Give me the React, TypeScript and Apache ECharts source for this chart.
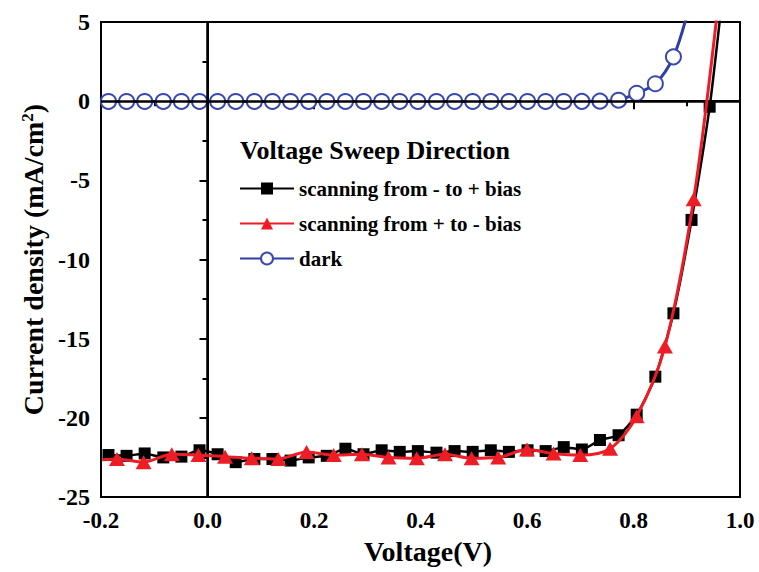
import React, { useEffect, useRef } from "react";
import * as echarts from "echarts";

// Voltage (V) / current density (mA/cm2)
const squareV = [-0.186, -0.152, -0.118, -0.083, -0.049, -0.015, 0.019, 0.053, 0.088, 0.122, 0.156, 0.19, 0.224, 0.259, 0.293, 0.327, 0.361, 0.395, 0.43, 0.464, 0.498, 0.532, 0.566, 0.601, 0.635, 0.669, 0.703, 0.737, 0.772, 0.806, 0.841, 0.875, 0.909, 0.943];
const squareJ = [-22.35, -22.4, -22.25, -22.5, -22.45, -22.05, -22.3, -22.8, -22.6, -22.6, -22.7, -22.5, -22.4, -21.95, -22.3, -22.05, -22.15, -22.1, -22.2, -22.1, -22.15, -22.05, -22.15, -22.05, -22.1, -21.85, -22.0, -21.4, -21.1, -19.8, -17.4, -13.4, -7.5, -0.35];
const squareTail = [0.965, 6.0];

const triV = [-0.17, -0.12, -0.067, -0.017, 0.033, 0.083, 0.133, 0.186, 0.237, 0.29, 0.34, 0.393, 0.446, 0.496, 0.546, 0.6, 0.65, 0.7, 0.756, 0.806, 0.859, 0.913];
const triJ = [-22.6, -22.8, -22.3, -22.35, -22.45, -22.55, -22.6, -22.15, -22.35, -22.3, -22.5, -22.55, -22.3, -22.55, -22.5, -22.0, -22.25, -22.35, -21.95, -19.9, -15.5, -6.2];
const triHead = [-0.197, -22.65];
const triTail = [0.96, 6.4];

const darkV = [-0.186, -0.152, -0.118, -0.083, -0.049, -0.015, 0.019, 0.053, 0.088, 0.122, 0.156, 0.19, 0.224, 0.259, 0.293, 0.327, 0.361, 0.395, 0.43, 0.464, 0.498, 0.532, 0.566, 0.601, 0.635, 0.669, 0.703, 0.737, 0.772, 0.806, 0.841, 0.875];
const darkJ = [-0.02, -0.02, -0.02, -0.02, -0.02, -0.02, -0.02, -0.02, -0.02, -0.02, -0.02, -0.02, -0.02, -0.02, -0.02, -0.02, -0.02, -0.02, -0.02, -0.02, -0.02, -0.02, -0.02, -0.02, -0.02, -0.02, -0.01, 0.0, 0.06, 0.5, 1.1, 2.8];
const darkTail = [0.905, 6.0];

const seriesNames = ["scanning from - to + bias", "scanning from + to - bias", "dark"];
const legendTitle = "Voltage Sweep Direction";
const xTickLabels = ["-0.2", "0.0", "0.2", "0.4", "0.6", "0.8", "1.0"];
const yTickLabels = ["-25", "-20", "-15", "-10", "-5", "0", "5"];

const FONT = "'Liberation Serif', 'Times New Roman', serif";

function pts(xs: number[], ys: number[]) {
  return xs.map((x, i) => [x, ys[i]]);
}
function hidden(p: number[]) {
  return { value: p, symbol: "none" };
}

export default function App() {
  const ref = useRef<HTMLDivElement>(null);
  useEffect(() => {
    if (!ref.current) return;
    const chart = echarts.init(ref.current, null, { renderer: "svg" });
    const option: any = {
      animation: false,
      backgroundColor: "#fff",
      grid: {
        left: 101,
        right: 19,
        top: 22,
        bottom: 75,
        show: true,
        borderColor: "#000",
        borderWidth: 2,
        backgroundColor: "transparent",
      },
      xAxis: {
        type: "value",
        min: -0.2,
        max: 1.0,
        interval: 0.2,
        name: "Voltage(V)",
        nameLocation: "middle",
        nameGap: 40,
        nameTextStyle: { fontFamily: FONT, fontWeight: "bold", fontSize: 28, color: "#000", padding: [0, 0, 0, 15] },
        axisLine: { show: true, lineStyle: { color: "#000", width: 2 } },
        axisTick: { show: true, length: 8, lineStyle: { color: "#000", width: 2 } },
        minorTick: { show: true, splitNumber: 2, length: 5, lineStyle: { color: "#000", width: 2 } },
        splitLine: { show: false },
        axisLabel: {
          margin: 12,
          fontFamily: FONT,
          fontWeight: "bold",
          fontSize: 23,
          color: "#000",
          formatter: (v: number) => xTickLabels[Math.round((v + 0.2) / 0.2)] ?? "",
        },
      },
      yAxis: {
        type: "value",
        min: -25,
        max: 5,
        interval: 5,
        name: "{a|Current density (mA/cm}{s|2}{a|)}",
        nameLocation: "middle",
        nameGap: 52,
        nameTextStyle: {
          color: "#000",
          rich: {
            a: { fontFamily: FONT, fontWeight: "bold", fontSize: 28, color: "#000", verticalAlign: "bottom" },
            s: { fontFamily: FONT, fontWeight: "bold", fontSize: 17, color: "#000", verticalAlign: "top" },
          },
        },
        axisLine: { show: true, lineStyle: { color: "#000", width: 2 } },
        axisTick: { show: true, length: 8, lineStyle: { color: "#000", width: 2 } },
        minorTick: { show: true, splitNumber: 2, length: 5, lineStyle: { color: "#000", width: 2 } },
        splitLine: { show: false },
        axisLabel: {
          margin: 11,
          fontFamily: FONT,
          fontWeight: "bold",
          fontSize: 24,
          color: "#000",
          formatter: (v: number) => yTickLabels[Math.round((v + 25) / 5)] ?? "",
        },
      },
      legend: {
        data: seriesNames,
        orient: "vertical",
        left: 234,
        top: 173,
        itemWidth: 54,
        itemHeight: 15,
        itemGap: 14,
        textStyle: { fontFamily: FONT, fontWeight: "bold", fontSize: 21, color: "#000" },
      },
      graphic: [
        {
          type: "text",
          left: 240,
          top: 137,
          style: { text: legendTitle, font: `bold 26px ${FONT}`, fill: "#000" },
        },
      ],
      series: [
        {
          name: seriesNames[2],
          type: "line",
          z: 2,
          data: [...pts(darkV, darkJ), hidden(darkTail)],
          symbol: "emptyCircle",
          symbolSize: 15,
          smooth: 0.3,
          lineStyle: { color: "#2d3fa3", width: 3 },
          itemStyle: { color: "#3a47b0", borderColor: "#3a47b0", borderWidth: 1.6 },
        },
        {
          name: "zero",
          type: "line",
          z: 3,
          data: [],
          markLine: {
            silent: true,
            symbol: ["none", "none"],
            label: { show: false },
            lineStyle: { color: "#000", width: 2.5, type: "solid" },
            data: [{ yAxis: 0 }, { xAxis: 0 }],
          },
        },
        {
          name: seriesNames[0],
          type: "line",
          z: 4,
          data: [...pts(squareV, squareJ), hidden(squareTail)],
          symbol: "rect",
          symbolSize: 12,
          smooth: 0.2,
          lineStyle: { color: "#000", width: 2.5 },
          itemStyle: { color: "#000" },
        },
        {
          name: seriesNames[1],
          type: "line",
          z: 5,
          data: [hidden(triHead), ...pts(triV, triJ), hidden(triTail)],
          symbol: "triangle",
          symbolSize: [16, 14],
          smooth: 0.3,
          lineStyle: { color: "#ee1c25", width: 3 },
          itemStyle: { color: "#ee1c25" },
        },
      ],
    };
    chart.setOption(option);
    return () => chart.dispose();
  }, []);
  return (
    <div
      ref={ref}
      style={{ position: "fixed", left: 0, top: 0, width: 759, height: 572, background: "#fff" }}
    />
  );
}
